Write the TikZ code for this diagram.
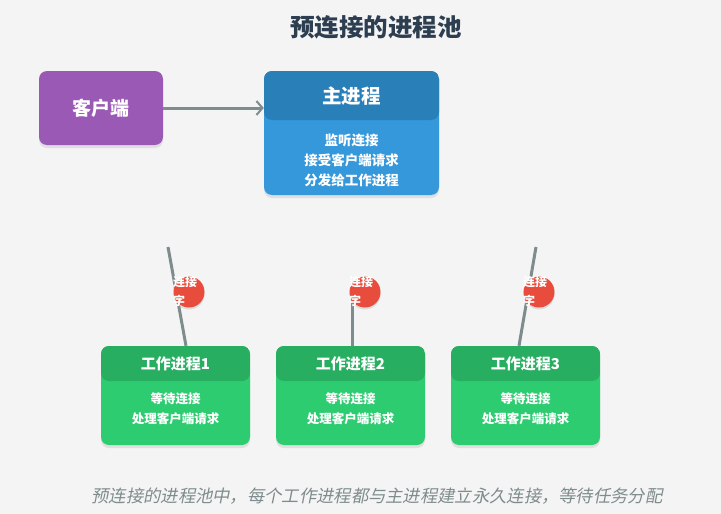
\documentclass[tikz,border=0pt]{standalone}
\usepackage{fontspec}
\setmainfont{Noto Sans CJK SC}
\newfontfamily\cjkit[FakeSlant=0.2]{Noto Sans CJK SC}
\usetikzlibrary{shadows,arrows.meta}
\definecolor{bg}{HTML}{F4F4F4}
\definecolor{titlec}{HTML}{2C3E50}
\definecolor{purp}{HTML}{9B59B6}
\definecolor{blueh}{HTML}{2980B9}
\definecolor{blueb}{HTML}{3498DB}
\definecolor{greenh}{HTML}{27AE60}
\definecolor{greenb}{HTML}{2ECC71}
\definecolor{grayc}{HTML}{7F8C8D}
\definecolor{redc}{HTML}{E74C3C}
\tikzset{
  boxshadow/.style={drop shadow={opacity=0.18,shadow xshift=0pt,shadow yshift=-3pt}},
  clientbox/.style={fill=purp,rounded corners=8pt,minimum width=124pt,minimum height=74pt,inner sep=0pt,boxshadow,
    text=white,font=\fontsize{19}{22}\selectfont\bfseries},
  mainbox/.style={fill=blueb,rounded corners=8pt,minimum width=175pt,minimum height=124pt,inner sep=0pt,boxshadow,
    path picture={\fill[blueh] (path picture bounding box.north west) rectangle ([yshift=-49pt]path picture bounding box.north east);}},
  workerbox/.style={fill=greenb,rounded corners=8pt,minimum width=149pt,minimum height=99pt,inner sep=0pt,boxshadow,
    path picture={\fill[greenh] (path picture bounding box.north west) rectangle ([yshift=-35pt]path picture bounding box.north east);}},
  hdrtext/.style={text=white,font=\fontsize{15}{18}\selectfont\bfseries,inner sep=0pt},
  bodytext/.style={text=white,font=\fontsize{12.5}{19.5}\selectfont\bfseries,align=center,inner sep=0pt},
  link/.style={draw=grayc,line width=3pt},
  badge/.style={circle,fill=redc,minimum size=31pt,inner sep=0pt,drop shadow={opacity=0.2,shadow xshift=0pt,shadow yshift=-2pt}},
  badgetext/.style={text=white,font=\fontsize{12}{13}\selectfont\bfseries,inner sep=0pt,anchor=west},
}
\begin{document}
\begin{tikzpicture}[x=1pt,y=-1pt]
\fill[bg] (0,0) rectangle (721,514);
\useasboundingbox (0,0) rectangle (721,514);

\node[text=titlec,font=\fontsize{24.5}{28}\selectfont\bfseries] (title) at (376,27) {预连接的进程池};

\node[clientbox] (client) at (101,108) {客户端};
\node[mainbox] (main) at (351.5,133) {};
\node[hdrtext,font=\fontsize{19.5}{22}\selectfont\bfseries] (mainhdr) at (351.5,96) {主进程};
\node[bodytext,font=\fontsize{13.5}{20}\selectfont\bfseries] (mainbody) at (351.5,160) {监听连接\\接受客户端请求\\分发给工作进程};

\draw[link,-{Straight Barb[length=6pt,width=14pt,line width=2pt]}] (client.east) -- (main.west |- client.east);

% workers
\foreach \i/\cx in {1/175.5,2/350.5,3/525.5}{
  \node[workerbox] (w\i) at (\cx,395.5) {};
  \node[hdrtext] (w\i hdr) at (\cx,364) {工作进程\i};
  \node[bodytext] (w\i body) at (\cx,408.5) {等待连接\\处理客户端请求};
}

% connectors
\coordinate (s1) at (168,247);
\coordinate (s2) at (352,290);
\coordinate (s3) at (536,247);
\draw[link] (s1) -- (w1.north -| 186,0);
\draw[link] (s2) -- (w2.north -| 352,0);
\draw[link] (s3) -- (w3.north -| 519,0);

% badges
\foreach \i/\bx in {1/189,2/365,3/539}{
  \node[badge] (b\i) at (\bx,292) {};
  \node[badgetext] (b\i a) at (\bx-16,282) {连接};
  \node[badgetext] (b\i b) at (\bx-16,301) {字};
}

\node[text=grayc,font=\cjkit\fontsize{17.3}{20}\selectfont] (caption) at (377,496) {预连接的进程池中，每个工作进程都与主进程建立永久连接，等待任务分配};
\end{tikzpicture}
\end{document}
